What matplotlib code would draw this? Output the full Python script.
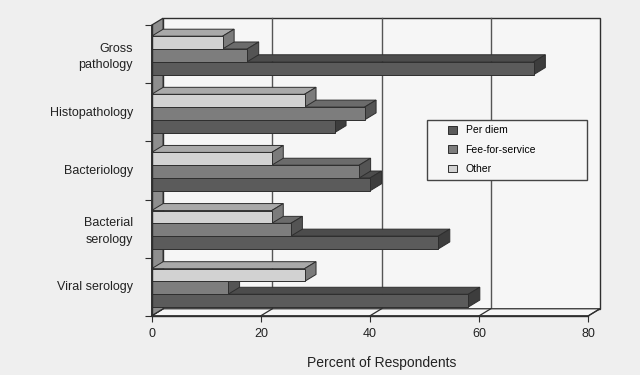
import numpy as np
import matplotlib.pyplot as plt
from matplotlib.patches import Polygon, Patch, Rectangle

# data (front face of each bar)
categories = ["Gross\npathology", "Histopathology", "Bacteriology",
              "Bacterial\nserology", "Viral serology"]
series = ["Per diem", "Fee-for-service", "Other"]
per_diem = [70, 33.5, 40, 52.5, 58]
fee_for_service = [17.5, 39, 38, 25.5, 14]
other = [13, 28, 22, 22, 28]
x_ticks = [0, 20, 40, 60, 80]

plt.rcParams['font.family'] = ['Liberation Sans', 'DejaVu Sans']

values = {"Per diem": per_diem, "Fee-for-service": fee_for_service, "Other": other}
# front, top, side shades
shades = {
    "Per diem":        ("#5b5b5b", "#4c4c4c", "#3d3d3d"),
    "Fee-for-service": ("#7d7d7d", "#6b6b6b", "#545454"),
    "Other":           ("#d2d2d2", "#a9a9a9", "#7b7b7b"),
}
offsets = {"Other": 0.19, "Fee-for-service": 0.41, "Per diem": 0.63}
BAR_H = 0.22
DX, DY = 2.1, 0.12      # depth of the fake 3d, in data units
EDGE = '#2e2e2e'
WALL = '#f6f6f6'
N = len(categories)

fig = plt.figure(figsize=(6.4, 3.75), dpi=100, facecolor='#efefef')
ax = fig.add_axes([0.237, 0.158, 0.6825, 0.775])
ax.set_xlim(0, 80)
ax.set_ylim(N, 0)
ax.set_facecolor('none')
for s in ['top', 'right']:
    ax.spines[s].set_visible(False)
for s in ['left', 'bottom']:
    ax.spines[s].set_color(EDGE)
    ax.spines[s].set_linewidth(1.0)
    ax.spines[s].set_zorder(50)

# back wall, floor, left wall
ax.add_patch(Polygon([(DX, -DY), (80 + DX, -DY), (80 + DX, N - DY), (DX, N - DY)],
                     fc=WALL, ec=EDGE, lw=1.0, clip_on=False, zorder=0))
for v in x_ticks[1:-1]:
    ax.plot([v + DX, v + DX], [-DY, N - DY], color='#555555', lw=1.0,
            clip_on=False, zorder=0.5)
ax.add_patch(Polygon([(0, N), (80, N), (80 + DX, N - DY), (DX, N - DY)],
                     fc=WALL, ec=EDGE, lw=0.9, clip_on=False, zorder=0.6))
for v in x_ticks:
    ax.plot([v, v + DX], [N, N - DY], color=EDGE, lw=0.9, clip_on=False, zorder=0.7)
ax.add_patch(Polygon([(0, 0), (DX, -DY), (DX, N - DY), (0, N)],
                     fc='#8e8e8e', ec=EDGE, lw=0.9, clip_on=False, zorder=0.8))

# bars, drawn bottom to top inside each group so upper fronts hide lower tops
z = 1
for i in range(N):
    for name in ["Per diem", "Fee-for-service", "Other"]:
        v = values[name][i]
        front, top, side = shades[name]
        y0 = i + offsets[name]
        y1 = y0 + BAR_H
        ax.barh(y0 + BAR_H / 2, v, height=BAR_H, color=front, edgecolor=EDGE,
                lw=0.7, zorder=z + 0.2)
        ax.add_patch(Polygon([(0, y0), (v, y0), (v + DX, y0 - DY), (DX, y0 - DY)],
                             fc=top, ec=EDGE, lw=0.7, clip_on=False, zorder=z))
        ax.add_patch(Polygon([(v, y0), (v + DX, y0 - DY), (v + DX, y1 - DY), (v, y1)],
                             fc=side, ec=EDGE, lw=0.7, clip_on=False, zorder=z + 0.1))
        z += 1

# axes ticks and labels
ax.set_xticks(x_ticks)
ax.tick_params(axis='x', length=4, width=0.8, color=EDGE, pad=4.5,
               labelsize=9, labelcolor='#222222')
ax.set_yticks(np.arange(N + 1))
ax.set_yticklabels([])
ax.tick_params(axis='y', which='major', length=5, width=0.8, color=EDGE)
ax.set_yticks(np.arange(N) + 0.48, minor=True)
ax.set_yticklabels(categories, minor=True, fontsize=9, color='#222222',
                   linespacing=1.55)
ax.tick_params(axis='y', which='minor', length=0, pad=13.5)

ax.set_xlabel("Percent of Respondents", fontsize=10, color='#222222')
ax.xaxis.set_label_coords(0.527, -0.137)

# legend: separate frame, entries inset from the left like the original
ax.add_patch(Rectangle((0.63, 0.467), 0.367, 0.206, transform=ax.transAxes,
                       fc=WALL, ec='#444444', lw=1.0, zorder=59, clip_on=False))
handles = [Patch(facecolor=shades[n][0], edgecolor=EDGE, lw=0.7) for n in series]
leg = ax.legend(handles, series, loc='upper left', bbox_to_anchor=(0.678, 0.655),
                fontsize=7.5, frameon=False,
                handlelength=0.9, handleheight=0.75, handletextpad=0.8,
                borderpad=0, labelspacing=0.9, borderaxespad=0)
leg.set_zorder(60)

fig.savefig("out.png", dpi=100, facecolor=fig.get_facecolor())
